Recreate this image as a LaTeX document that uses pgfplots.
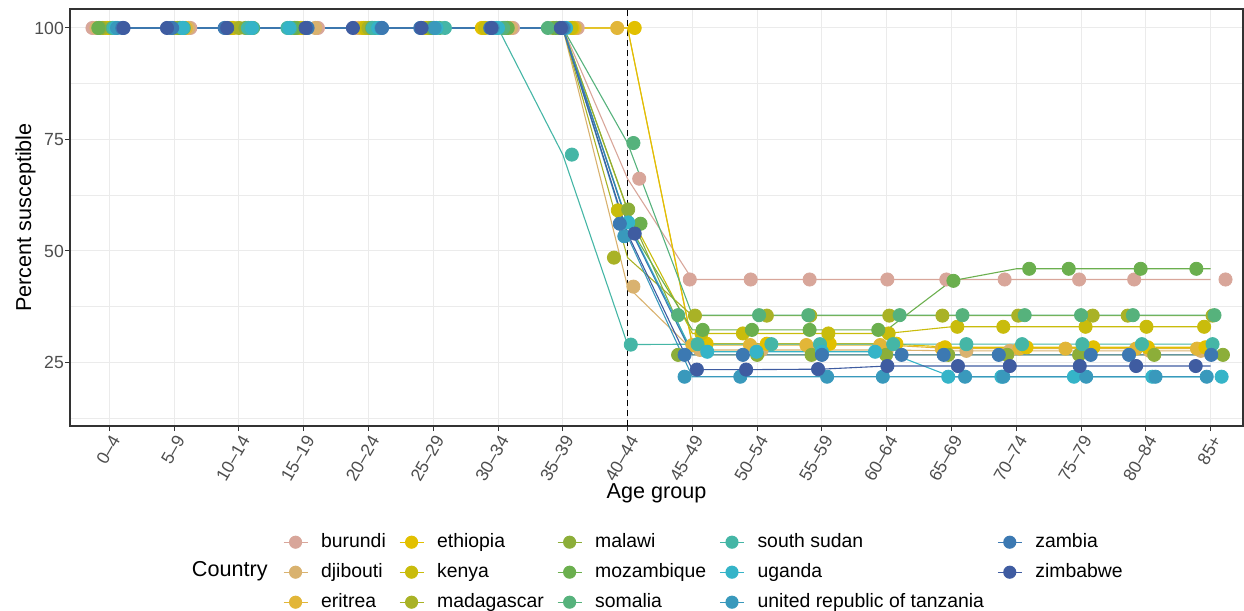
\documentclass[border=0pt]{standalone}
\usepackage{pgfplots}
\usepackage{pgfplotstable}
\pgfplotsset{compat=1.18}
\usepackage{fontspec}
\setmainfont{Liberation Sans}

\definecolor{cBur}{HTML}{D8A69A}
\definecolor{cDji}{HTML}{D9B26F}
\definecolor{cEri}{HTML}{E2B638}
\definecolor{cEth}{HTML}{E2C000}
\definecolor{cKen}{HTML}{C9BC0C}
\definecolor{cMad}{HTML}{A9B226}
\definecolor{cMal}{HTML}{8CAE39}
\definecolor{cMoz}{HTML}{6BAF4E}
\definecolor{cSom}{HTML}{56B27C}
\definecolor{cSsu}{HTML}{45B6A6}
\definecolor{cUga}{HTML}{35B4C8}
\definecolor{cTan}{HTML}{3999BC}
\definecolor{cZam}{HTML}{3C79B2}
\definecolor{cZim}{HTML}{3F5CA1}
\definecolor{gtxt}{HTML}{4D4D4D}
\definecolor{gaxis}{HTML}{333333}
\definecolor{ggrid}{HTML}{EBEBEB}

\pgfplotstableread{
xj y
0.74 100
2.25 100
3.20 100
4.22 100
4.80 100
5.85 100
7.23 100
8.23 100
9.18 66.2
9.96 43.6
10.90 43.6
11.81 43.6
13.01 43.6
13.92 43.6
14.82 43.6
15.97 43.6
16.82 43.6
18.23 43.6
}\tBur
\pgfplotstableread{
xj y
0.80 100
2.22 100
3.18 100
4.18 100
4.85 100
5.88 100
7.20 100
8.20 100
9.09 42.0
10.12 27.8
11.07 27.8
11.84 27.8
13.00 27.8
14.23 27.6
14.90 27.6
16.11 27.6
17.06 27.6
17.85 27.6
}\tDji
\pgfplotstableread{
xj y
0.95 100
2.18 100
2.92 100
3.95 100
4.90 100
5.90 100
6.78 100
8.18 100
8.84 100
10.00 28.9
10.89 28.9
11.76 28.9
12.90 28.9
13.85 28.1
15.05 28.1
15.76 28.1
16.85 28.1
17.79 28.1
}\tEri
\pgfplotstableread{
xj y
0.97 100
2.12 100
2.90 100
3.97 100
4.92 100
5.92 100
6.75 100
8.15 100
9.11 100
10.22 29.2
11.15 29.2
12.12 29.2
13.15 29.2
13.90 28.4
15.16 28.4
16.19 28.4
17.03 28.4
17.92 28.4
}\tEth
\pgfplotstableread{
xj y
1.00 100
2.00 100
2.88 100
4.00 100
4.95 100
5.90 100
6.80 100
8.13 100
8.85 59.1
10.14 31.5
10.78 31.5
12.10 31.5
13.03 31.5
14.09 33.0
14.80 33.0
16.07 33.0
17.01 33.0
17.90 33.0
}\tKen
\pgfplotstableread{
xj y
0.90 100
2.05 100
3.00 100
3.90 100
5.00 100
5.95 100
7.10 100
7.95 100
8.79 48.5
10.04 35.5
11.15 35.5
11.82 35.5
13.04 35.5
13.86 35.5
15.03 35.5
16.18 35.5
16.72 35.5
18.03 35.5
}\tMad
\pgfplotstableread{
xj y
0.85 100
2.08 100
3.10 100
3.88 100
5.05 100
6.00 100
7.12 100
7.85 100
9.01 59.3
9.78 26.7
11.00 26.7
11.84 26.7
12.99 26.7
13.95 26.7
14.86 26.7
15.97 26.7
17.13 26.7
18.19 26.7
}\tMal
\pgfplotstableread{
xj y
0.83 100
2.10 100
3.15 100
3.86 100
5.10 100
5.98 100
7.15 100
7.90 100
9.20 56.1
10.16 32.3
10.92 32.3
11.81 32.3
12.87 32.3
14.03 43.3
15.20 46.0
15.81 46.0
16.92 46.0
17.78 46.0
}\tMoz
\pgfplotstableread{
xj y
1.05 100
2.15 100
3.22 100
3.80 100
5.06 100
6.10 100
7.08 100
7.77 100
9.09 74.2
9.78 35.6
11.03 35.6
11.79 35.6
13.20 35.6
14.17 35.6
15.13 35.6
16.00 35.6
16.80 35.6
18.06 35.6
}\tSom
\pgfplotstableread{
xj y
1.07 100
2.14 100
3.14 100
3.75 100
5.07 100
6.18 100
6.98 100
8.14 71.6
9.05 29.0
10.08 29.1
11.22 29.1
11.97 29.1
13.10 29.1
14.23 29.1
15.09 29.1
16.02 29.1
16.94 29.1
18.03 29.1
}\tSsu
\pgfplotstableread{
xj y
1.10 100
2.13 100
3.20 100
3.78 100
5.15 100
6.05 100
7.00 100
8.05 100
9.01 56.4
10.23 27.4
10.99 27.4
12.00 27.4
12.82 27.4
13.95 21.8
14.77 21.8
15.89 21.8
17.10 21.8
18.17 21.8
}\tUga
\pgfplotstableread{
xj y
1.12 100
1.95 100
2.80 100
4.05 100
5.20 100
6.02 100
6.92 100
8.02 100
8.95 53.3
9.88 21.8
10.74 21.8
12.08 21.8
12.94 21.8
14.21 21.8
14.80 21.8
16.08 21.8
17.15 21.8
17.94 21.8
}\tTan
\pgfplotstableread{
xj y
1.20 100
1.97 100
2.78 100
4.06 100
5.21 100
5.80 100
6.88 100
8.00 100
8.88 56.1
9.88 26.7
10.78 26.7
12.00 26.7
13.23 26.7
13.88 26.7
14.73 26.7
16.15 26.7
16.74 26.7
18.01 26.7
}\tZam
\pgfplotstableread{
xj y
1.22 100
1.89 100
2.82 100
4.03 100
4.76 100
5.82 100
6.90 100
7.97 100
9.11 53.9
10.07 23.4
10.83 23.4
11.94 23.5
13.01 24.2
14.10 24.2
14.90 24.2
15.98 24.2
16.85 24.2
17.77 24.2
}\tZim

\newcommand{\pts}[2]{\addplot[only marks, mark=*, mark size=3.3pt, color=#2, forget plot] table[x=xj,y=y]{#1};}
\newcommand{\lin}[2]{\addplot[color=#2, line width=0.55pt, mark=none, forget plot] table[x expr=\coordindex+1,y=y]{#1};}
\newcommand{\leg}[2]{\addlegendimage{color=#1, line width=0.55pt, mark=*, mark size=3pt}\addlegendentry{#2}}

\begin{document}
\begin{tikzpicture}
\path[use as bounding box] (-35pt,-92.5pt) rectangle (587pt,213pt);
\begin{axis}[
  at={(0,0)}, anchor=south west,
  scale only axis, width=586.5pt, height=208.5pt,
  xmin=0.393, xmax=18.5, ymin=10.75, ymax=104.25,
  xtick={1,...,18},
  xticklabels={0–4,5–9,10–14,15–19,20–24,25–29,30–34,35–39,40–44,45–49,50–54,55–59,60–64,65–69,70–74,75–79,80–84,85+},
  ytick={25,50,75,100},
  minor ytick={12.5,37.5,62.5,87.5},
  grid=both,
  major grid style={color=ggrid, line width=0.5pt},
  minor grid style={color=ggrid, line width=0.3pt},
  axis line style={color=gaxis, line width=0.55pt},
  tick style={color=gaxis, line width=0.5pt},
  tick align=outside, major tick length=2.5pt, minor tick length=0pt,
  xtick pos=bottom, ytick pos=left,
  /pgf/number format/assume math mode=true,
  ticklabel style={font=\fontsize{8.8}{10}\selectfont, text=gtxt},
  xticklabel style={rotate=60, anchor=north east, inner sep=1pt},
  yticklabel style={inner sep=1pt, xshift=0.6pt},
  xlabel={Age group}, ylabel={Percent susceptible},
  label style={font=\fontsize{10.8}{13}\selectfont},
  xlabel style={at={(axis description cs:0.5,-0.1607)}, anchor=center},
  ylabel style={at={(axis description cs:-0.038,0.5)}, anchor=center},
  legend columns=3, transpose legend,
  legend cell align=left,
  legend image code/.code={\draw[mark repeat=2,mark phase=2,#1] plot coordinates {(0pt,0pt) (6pt,0pt) (12pt,0pt)};},
  legend style={at={(axis description cs:0.1816,-0.2566)}, anchor=north west,
    draw=none, fill=none, inner sep=0pt, outer sep=0pt,
    font=\fontsize{9.7}{11}\selectfont,
    row sep=5.8pt, column sep=6.5pt,
    nodes={inner sep=0pt, text height=7pt, text depth=2.2pt},
    /tikz/every even column/.append style={column sep=6.6pt}},
]
\leg{cBur}{burundi}
\leg{cDji}{djibouti}
\leg{cEri}{eritrea}
\leg{cEth}{ethiopia}
\leg{cKen}{kenya}
\leg{cMad}{madagascar}
\leg{cMal}{malawi}
\leg{cMoz}{mozambique}
\leg{cSom}{somalia}
\leg{cSsu}{south sudan}
\leg{cUga}{uganda}
\leg{cTan}{united republic of tanzania}
\leg{cZam}{zambia}
\leg{cZim}{zimbabwe}
\addplot[black, dashed, dash pattern=on 3pt off 2pt, line width=0.55pt, forget plot] coordinates {(9,10.75) (9,104.25)};
\pts{\tBur}{cBur}
\pts{\tDji}{cDji}
\pts{\tEri}{cEri}
\pts{\tEth}{cEth}
\pts{\tKen}{cKen}
\pts{\tMad}{cMad}
\pts{\tMal}{cMal}
\pts{\tMoz}{cMoz}
\pts{\tSom}{cSom}
\pts{\tSsu}{cSsu}
\pts{\tUga}{cUga}
\pts{\tTan}{cTan}
\pts{\tZam}{cZam}
\pts{\tZim}{cZim}
\lin{\tBur}{cBur}
\lin{\tDji}{cDji}
\lin{\tEri}{cEri}
\lin{\tEth}{cEth}
\lin{\tKen}{cKen}
\lin{\tMad}{cMad}
\lin{\tMal}{cMal}
\lin{\tMoz}{cMoz}
\lin{\tSom}{cSom}
\lin{\tSsu}{cSsu}
\lin{\tUga}{cUga}
\lin{\tTan}{cTan}
\lin{\tZim}{cZim}
\lin{\tZam}{cZam}
\end{axis}
\node[anchor=mid east, font=\fontsize{10.8}{13}\selectfont, inner sep=0pt] at (99pt,-72.5pt) {Country};
\end{tikzpicture}
\end{document}
